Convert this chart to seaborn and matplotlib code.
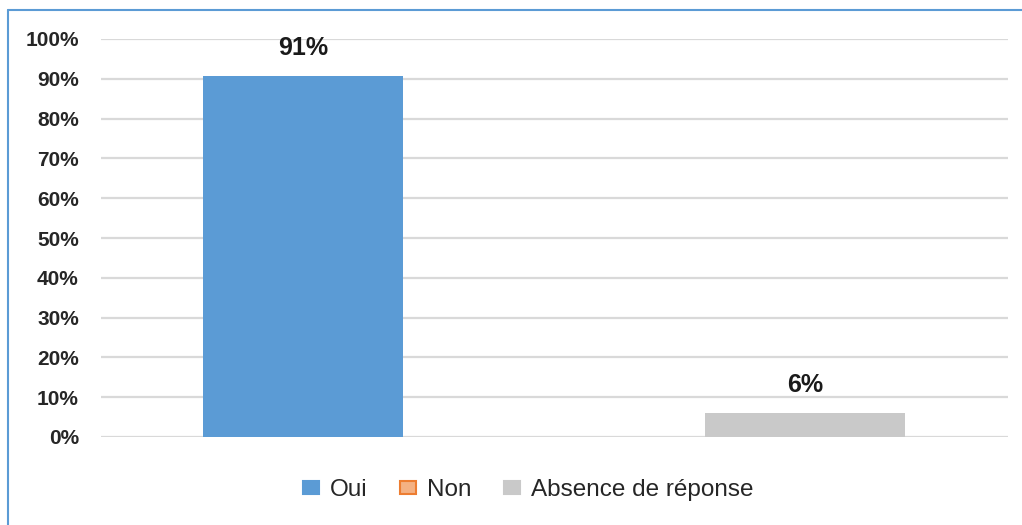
import matplotlib
matplotlib.use("Agg")
import matplotlib.pyplot as plt
from matplotlib.lines import Line2D
from matplotlib.patches import Patch
import seaborn as sns

categories = ["Oui", "Non", "Absence de réponse"]
values = [0.907, 0.0, 0.06]
labels = ["91%", "", "6%"]
colors = ["#5B9BD5", "#F4B183", "#C9C9C9"]
edges = ["#5B9BD5", "#ED7D31", "#C9C9C9"]

sns.set_style("white")
plt.rcParams["font.family"] = ["Liberation Sans", "DejaVu Sans"]

fig = plt.figure(figsize=(10.22, 5.25), dpi=100)
ax = fig.add_axes([101 / 1022, 1 - 437 / 525, 907 / 1022, 398 / 525])

sns.barplot(x=categories, y=values, hue=categories, palette=colors, saturation=1,
            width=0.797, dodge=False, legend=False, ax=ax, linewidth=0)

# gridlines
ax.set_ylim(0, 1)
ax.set_xlim(-0.805, 2.81)
ax.set_yticks([i / 10 for i in range(11)])
ax.set_yticklabels([f"{i * 10}%" for i in range(11)], fontsize=15, fontweight="bold")
ax.yaxis.grid(True, color="#D9D9D9", linewidth=1.6)
ax.set_axisbelow(True)
ax.tick_params(axis="y", length=0, pad=16)
ax.set_xticks([])
ax.set_xlabel("")
ax.set_ylabel("")
for s in ax.spines.values():
    s.set_visible(False)

# data labels
for i, (v, lab) in enumerate(zip(values, labels)):
    if lab:
        ax.text(i, v + 0.04, lab, ha="center", va="bottom",
                fontsize=18, fontweight="bold", color="#1a1a1a")

# legend
handles = [Patch(facecolor=c, edgecolor=e, linewidth=1.5) for c, e in zip(colors, edges)]
fig.legend(handles, categories, loc="center", bbox_to_anchor=(0.517, 1 - 490 / 525),
           ncol=3, frameon=False, fontsize=17.5, handlelength=0.65, handleheight=0.45,
           handletextpad=0.45, columnspacing=1.35)

# blue frame (left + top)
fig.add_artist(Line2D([8 / 1022, 8 / 1022], [0, 1 - 10 / 525], color="#5B9BD5",
                      linewidth=1.5, transform=fig.transFigure))
fig.add_artist(Line2D([8 / 1022, 1], [1 - 10 / 525, 1 - 10 / 525], color="#5B9BD5",
                      linewidth=1.5, transform=fig.transFigure))

fig.savefig("out.png", dpi=100)
